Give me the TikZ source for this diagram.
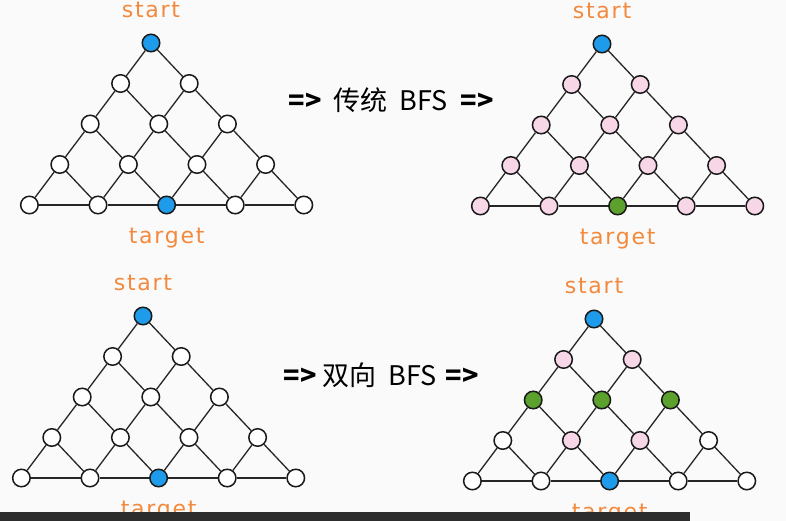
\documentclass[tikz,border=0pt]{standalone}
\usepackage{fontspec}
\usepackage{tikz}
\usetikzlibrary{positioning}
\newfontfamily\cjkfont{Noto Sans CJK SC}
\newfontfamily\tagfont{DejaVu Sans}[LetterSpace=8]
\definecolor{startblue}{RGB}{30,155,234}
\definecolor{visitpink}{RGB}{246,214,231}
\definecolor{meetgreen}{RGB}{92,160,46}
\definecolor{tagorange}{RGB}{242,137,60}
\definecolor{barblack}{RGB}{45,45,45}
\definecolor{paper}{RGB}{250,250,250}

% triangle of 15 vertices: #1 name, #2/#3 apex, #4 default look
\newcommand{\trigrid}[4]{%
  \foreach \r in {0,...,4}
    \foreach \k in {0,...,\r}
      \node[vertex, #4, #1-\r-\k/.try] (#1-\r-\k)
        at ({#2+(2*\k-\r)*34.3+\r*3.9}, {#3+\r*40.5}) {};
  \foreach \r in {0,...,3}
    \foreach \k in {0,...,\r}{
      \pgfmathtruncatemacro\rn{\r+1}
      \pgfmathtruncatemacro\kn{\k+1}
      \draw[link] (#1-\r-\k) -- (#1-\rn-\k);
      \draw[link] (#1-\r-\k) -- (#1-\rn-\kn);
    }
  \foreach \k in {0,...,3}{
    \pgfmathtruncatemacro\kn{\k+1}
    \draw[link] (#1-4-\k) -- (#1-4-\kn);
  }
}
\newcommand{\goes}{{\bfseries=\kern1pt>}}

\begin{document}
\begin{tikzpicture}[
  x=1pt, y=-1pt,
  vertex/.style={circle, draw=black!90, line width=1.5pt, fill=white,
    minimum size=17.5pt, inner sep=0pt},
  src/.style={fill=startblue},
  seen/.style={fill=visitpink},
  meet/.style={fill=meetgreen},
  link/.style={draw=black!85, line width=1.3pt},
  tag/.style={text=tagorange, font=\tagfont\fontsize{22}{24}\selectfont, inner sep=0pt},
  flowtext/.style={font=\cjkfont\fontsize{27}{30}\selectfont, inner sep=0pt},
  TL-0-0/.style={src}, TL-4-2/.style={src},
  TR-0-0/.style={src}, TR-4-2/.style={meet},
  BL-0-0/.style={src}, BL-4-2/.style={src},
  BR-0-0/.style={src}, BR-4-2/.style={src},
  BR-1-0/.style={seen}, BR-1-1/.style={seen},
  BR-2-0/.style={meet}, BR-2-1/.style={meet}, BR-2-2/.style={meet},
  BR-3-1/.style={seen}, BR-3-2/.style={seen}
]
\path[use as bounding box, fill=paper] (0,0) rectangle (786,521);

\trigrid{TL}{151}{43}{}
\trigrid{TR}{602}{44}{seen}
\trigrid{BL}{143}{316}{}
\trigrid{BR}{594}{319}{}

\node[tag, above=15pt of TL-0-0] (TL-start) {start};
\node[tag, below=13pt of TL-4-2] (TL-target) {target};
\node[tag, above=15pt of TR-0-0] (TR-start) {start};
\node[tag, below=13pt of TR-4-2] (TR-target) {target};
\node[tag, above=15pt of BL-0-0] (BL-start) {start};
\node[tag, below=13pt of BL-4-2] (BL-target) {target};
\node[tag, above=15pt of BR-0-0] (BR-start) {start};
\node[tag, below=13pt of BR-4-2] (BR-target) {target};

\node[flowtext] (classic) at (391,100)
  {\goes\hspace{12pt}传统\hspace{12pt}BFS\hspace{12pt}\goes};
\node[flowtext] (twoway) at (381,375)
  {\goes\hspace{6pt}双向\hspace{12pt}BFS\hspace{8pt}\goes};

% recording bar along the bottom
\fill[barblack] (0,512) rectangle (690,521);
\end{tikzpicture}
\end{document}
